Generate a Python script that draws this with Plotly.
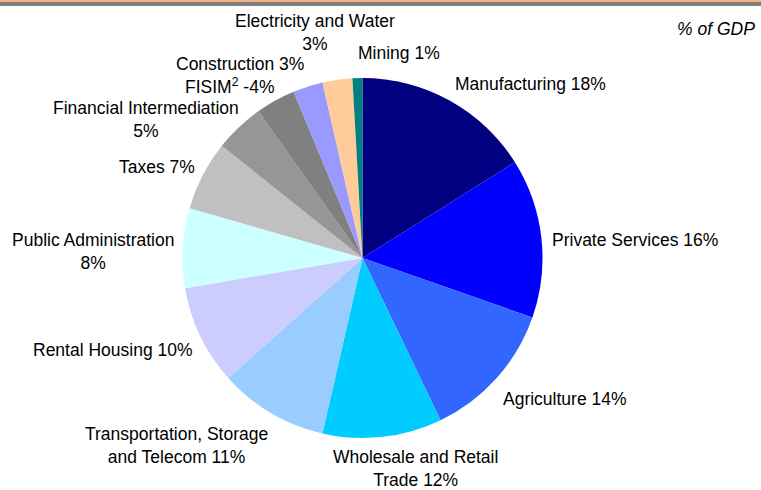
import plotly.graph_objects as go

# GDP composition by sector, % of GDP (FISIM enters as a negative adjustment)
sectors = [
    "Manufacturing", "Private Services", "Agriculture", "Wholesale and Retail Trade",
    "Transportation, Storage and Telecom", "Rental Housing", "Public Administration",
    "Taxes", "Financial Intermediation", "FISIM<sup>2</sup>", "Construction",
    "Electricity and Water", "Mining",
]
shares = [18, 16, 14, 12, 11, 10, 8, 7, 5, -4, 3, 3, 1]
colors = [
    "#000080", "#0000FF", "#3366FF", "#00CCFF", "#99CCFF", "#CCCCFF", "#CCFFFF",
    "#C0C0C0", "#969696", "#808080", "#9999FF", "#FFCC99", "#008080",
]

W, H = 761, 490
FONT = "Liberation Sans, Arial, sans-serif"
FONT_SIZE = 17.5

# Pie placement (pixel centre and radius)
cx, cy, r = 362.5, 258, 180

fig = go.Figure(go.Pie(
    labels=sectors,
    values=[abs(s) for s in shares],
    marker=dict(colors=colors, line=dict(width=0)),
    sort=False,
    direction="clockwise",
    rotation=0,
    textinfo="none",
    hoverinfo="label+value",
    showlegend=False,
    domain=dict(x=[(cx - r) / W, (cx + r) / W],
                y=[(H - cy - r) / H, (H - cy + r) / H]),
))

# Label layout: pixel centre of each label and how its text is wrapped
label_layout = {
    "Manufacturing": (530, 84, "{n} {v}%"),
    "Private Services": (635, 240, "{n} {v}%"),
    "Agriculture": (565, 399, "{n} {v}%"),
    "Wholesale and Retail Trade": (415, 468, "Wholesale and Retail<br>Trade {v}%"),
    "Transportation, Storage and Telecom": (176, 445, "Transportation, Storage<br>and Telecom {v}%"),
    "Rental Housing": (113, 350, "{n} {v}%"),
    "Public Administration": (93, 251, "{n}<br>{v}%"),
    "Taxes": (157, 167, "{n} {v}%"),
    "Financial Intermediation": (146, 119, "{n}<br>{v}%"),
    "FISIM<sup>2</sup>": (229, 86, "{n} {v}%"),
    "Construction": (240, 64, "{n} {v}%"),
    "Electricity and Water": (315, 32, "{n}<br>{v}%"),
    "Mining": (399, 53, "{n} {v}%"),
}

annotations = []
for name, v in zip(sectors, shares):
    x, y, fmt = label_layout[name]
    annotations.append(dict(
        x=x / W, y=1 - y / H, xref="paper", yref="paper",
        text=fmt.format(n=name, v=v), showarrow=False,
        xanchor="center", yanchor="middle", align="center",
        font=dict(family=FONT, size=FONT_SIZE, color="#000000"),
    ))

annotations.append(dict(
    x=757 / W, y=1 - 29 / H, xref="paper", yref="paper",
    text="<i>% of GDP</i>", showarrow=False, xanchor="right", yanchor="middle",
    font=dict(family=FONT, size=FONT_SIZE, color="#000000"),
))

# Header rule: thin orange line over a grey band
shapes = [
    dict(type="rect", xref="paper", yref="paper", x0=0, x1=1,
         y0=1 - 6 / H, y1=1 - 2 / H, fillcolor="#808080", line=dict(width=0)),
    dict(type="rect", xref="paper", yref="paper", x0=0, x1=1,
         y0=1 - 2 / H, y1=1, fillcolor="#F4B183", line=dict(width=0)),
]

fig.update_layout(
    width=W, height=H,
    margin=dict(l=0, r=0, t=0, b=0),
    paper_bgcolor="#FFFFFF", plot_bgcolor="#FFFFFF",
    annotations=annotations, shapes=shapes,
)

fig.write_html("out.html")
